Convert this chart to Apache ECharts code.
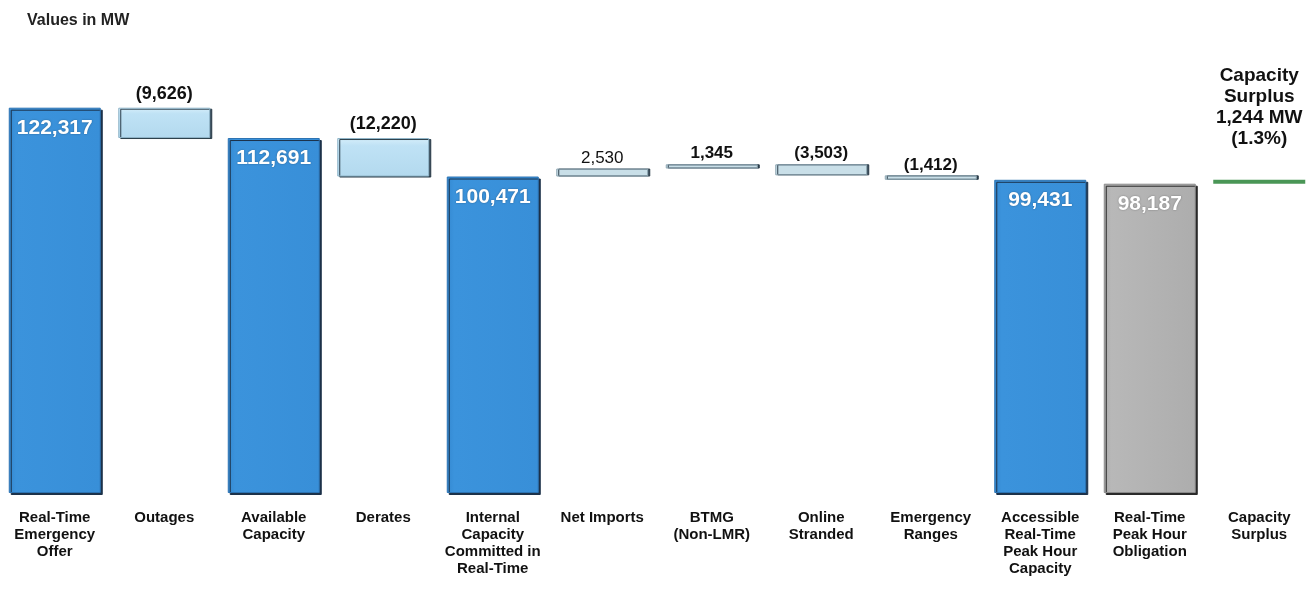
<!DOCTYPE html>
<html>
<head>
<meta charset="utf-8">
<title>Real-Time Capacity Waterfall</title>
<script src="https://cdn.jsdelivr.net/npm/echarts@6/dist/echarts.min.js"></script>
<style>
  html, body { margin: 0; padding: 0; background: #ffffff; }
  #chart { width: 1309px; height: 590px; }
</style>
</head>
<body>
<div id="chart"></div>
<script>
// Waterfall steps, MW
const categories = [
  'Real-Time\nEmergency\nOffer',
  'Outages',
  'Available\nCapacity',
  'Derates',
  'Internal\nCapacity\nCommitted in\nReal-Time',
  'Net Imports',
  'BTMG\n(Non-LMR)',
  'Online\nStranded',
  'Emergency\nRanges',
  'Accessible\nReal-Time\nPeak Hour\nCapacity',
  'Real-Time\nPeak Hour\nObligation',
  'Capacity\nSurplus'
];
// 'total' = full bar from zero, 'delta' = floating step, 'obligation' = grey total, 'surplus' = gap to obligation
const stepKinds = ['total', 'delta', 'total', 'delta', 'total', 'delta', 'delta', 'delta', 'delta', 'total', 'obligation', 'surplus'];
const stepValues = [122317, -9626, 112691, -12220, 100471, 2530, 1345, -3503, -1412, 99431, 98187, 1244];

const FONT = 'Liberation Sans, Arial, sans-serif';
const fmt = v => Math.abs(v).toLocaleString('en-US');

// Build invisible base + visible segment for each step
const baseData = [];
const segData = [];
let running = 0;
stepValues.forEach((v, i) => {
  const kind = stepKinds[i];
  let base, height;
  if (kind === 'total' || kind === 'obligation') {
    base = 0; height = v; running = v;
  } else if (kind === 'delta') {
    const next = running + v;
    base = Math.min(running, next); height = Math.abs(v); running = next;
  } else { // surplus sits on top of the obligation bar
    base = stepValues[i - 1]; height = v;
  }
  baseData.push(base);

  const item = { value: height };
  if (kind === 'total' || kind === 'obligation') {
    const grey = kind === 'obligation';
    item.itemStyle = {
      color: {
        type: 'linear', x: 0, y: 0, x2: 1, y2: 0,
        colorStops: grey
          ? [{ offset: 0, color: '#a9a9a9' }, { offset: 0.08, color: '#b8b8b8' }, { offset: 1, color: '#adadad' }]
          : [{ offset: 0, color: '#3488d0' }, { offset: 0.08, color: '#3b93dc' }, { offset: 1, color: '#388fd8' }]
      },
      borderColor: grey ? '#8a8a8a' : '#2c73b2', borderWidth: 1,
      shadowColor: grey ? '#2a2a2a' : '#1c324a', shadowOffsetX: 2, shadowOffsetY: 2, shadowBlur: 0
    };
    item.label = { show: true, position: 'insideTop', distance: 10, formatter: fmt(v),
      color: '#ffffff', fontSize: 21, fontWeight: 'bold', fontFamily: FONT,
      textShadowColor: 'rgba(0,0,0,0.35)', textShadowBlur: 2 };
  } else if (kind === 'delta') {
    const big = Math.abs(v) > 5000;
    item.itemStyle = big
      ? { color: { type: 'linear', x: 0, y: 0, x2: 0, y2: 1,
            colorStops: [{ offset: 0, color: '#d6eefa' }, { offset: 0.2, color: '#bfe2f5' }, { offset: 1, color: '#b3d9ee' }] },
          borderColor: '#8fb4c8', borderWidth: 1,
          shadowColor: '#2b3d4a', shadowOffsetX: 2, shadowOffsetY: 1, shadowBlur: 0 }
      : { color: '#c9dfe8', borderColor: '#8ea6b2', borderWidth: 1,
          shadowColor: '#2b3d4a', shadowOffsetX: 2, shadowOffsetY: 0, shadowBlur: 0 };
    item.label = { show: true, position: 'top', distance: big ? 5 : 6,
      offset: big ? [0, 0] : [0, 4],
      formatter: v < 0 ? '(' + fmt(v) + ')' : fmt(v),
      color: '#111111', fontSize: big ? 18 : 17, fontWeight: i === 5 ? 'normal' : 'bold', fontFamily: FONT };
  } else {
    const pct = (v / stepValues[i - 1] * 100).toFixed(1);
    item.itemStyle = { color: '#4a9656' };
    item.label = { show: true, position: 'top', distance: 31,
      formatter: 'Capacity\nSurplus\n' + fmt(v) + ' MW\n(' + pct + '%)',
      color: '#111111', fontSize: 19, fontWeight: 'bold', lineHeight: 21, align: 'center', fontFamily: FONT };
  }
  segData.push(item);
});

const chart = echarts.init(document.getElementById('chart'), null, { renderer: 'canvas' });
chart.setOption({
  animation: false,
  backgroundColor: '#ffffff',
  textStyle: { fontFamily: FONT },
  title: {
    text: 'Values in MW', left: 22, top: 8,
    textStyle: { fontSize: 16, fontWeight: 'bold', color: '#222222', fontFamily: FONT }
  },
  grid: { left: 0, top: 52, width: 1314, height: 441, outerBoundsMode: 'none', containLabel: false },
  xAxis: {
    type: 'category',
    data: categories,
    axisLine: { show: false },
    axisTick: { show: false },
    axisLabel: {
      interval: 0, margin: 16, color: '#111111', fontSize: 15, fontWeight: 'bold',
      lineHeight: 17, fontFamily: FONT
    }
  },
  yAxis: { type: 'value', min: 0, max: 140000, show: false, splitLine: { show: false } },
  series: [
    {
      name: 'base', type: 'bar', stack: 'wf', barWidth: 92,
      itemStyle: { color: 'rgba(0,0,0,0)' },
      emphasis: { disabled: true },
      data: baseData
    },
    {
      name: 'step', type: 'bar', stack: 'wf', barWidth: 92,
      emphasis: { disabled: true },
      data: segData
    }
  ]
});
</script>
</body>
</html>
